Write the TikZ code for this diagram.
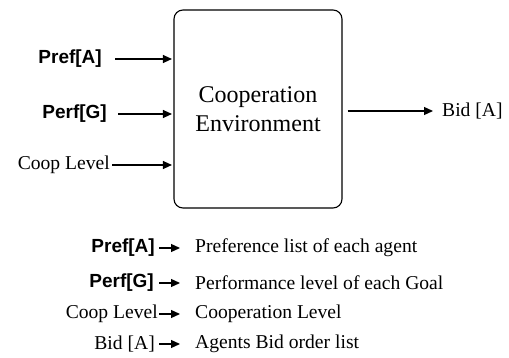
\documentclass[tikz,border=0pt]{standalone}
\usepackage{fontspec}
\setmainfont{Liberation Serif}
\newfontfamily\arialfont{Liberation Sans}
\usetikzlibrary{arrows.meta,positioning}

\begin{document}
\begin{tikzpicture}[
    x=1pt, y=-1pt,
    node distance=40pt,
    envbox/.style={rectangle, draw, rounded corners=9pt, line width=1.1pt, minimum width=168pt, minimum height=198pt, align=center, font=\fontsize{24}{29}\selectfont},
    sym/.style={inner sep=0pt, font=\arialfont\bfseries\fontsize{19}{22}\selectfont},
    txt/.style={inner sep=0pt, font=\fontsize{19.6}{23}\selectfont},
    arrow/.style={-{Triangle[length=9pt,width=8pt]}, line width=1.2pt}
]
\useasboundingbox (0,0) rectangle (509,358);

\node[envbox] (env) at (258,109) {Cooperation\\Environment};
\node[sym, anchor=east] (pref) at (102,59) {Pref[A]};
\node[sym, anchor=east] (perf) at (107,114) {Perf[G]};
\node[txt, anchor=east] (coop) at (110,165) {Coop Level};
\node[txt, anchor=west] (bid) at (442,111) {Bid [A]};

\draw[arrow, shorten <=13pt, shorten >=1.5pt] (pref.east) -- (pref.east -| env.west);
\draw[arrow, shorten <=11pt, shorten >=1.5pt] (perf.east) -- (perf.east -| env.west);
\draw[arrow, shorten <=2pt, shorten >=1.5pt] (coop.east) -- (coop.east -| env.west);
\draw[arrow, shorten <=5pt, shorten >=9pt] (bid.west -| env.east) -- (bid.west);

% legend
\node[sym, anchor=east] (lpref) at (155,248) {Pref[A]};
\node[sym, anchor=east] (lperf) at (154,283) {Perf[G]};
\node[txt, anchor=east] (lcoop) at (158,314) {Coop Level};
\node[txt, anchor=east] (lbid) at (155,344) {Bid [A]};
\node[txt, anchor=west] (dpref) at (195,248) {Preference list of each agent};
\node[txt, anchor=west] (dperf) at (195,283) {Performance level of each Goal};
\node[txt, anchor=west] (dcoop) at (195,314) {Cooperation Level};
\node[txt, anchor=west] (dbid) at (195,344) {Agents Bid order list};

\draw[arrow, shorten <=4pt, shorten >=15pt] (lpref.east) -- (dpref.west);
\draw[arrow, shorten <=5pt, shorten >=15pt] (lperf.east) -- (dperf.west);
\draw[arrow, shorten <=1pt, shorten >=15pt] (lcoop.east) -- (dcoop.west);
\draw[arrow, shorten <=4pt, shorten >=15pt] (lbid.east) -- (dbid.west);
\end{tikzpicture}
\end{document}
